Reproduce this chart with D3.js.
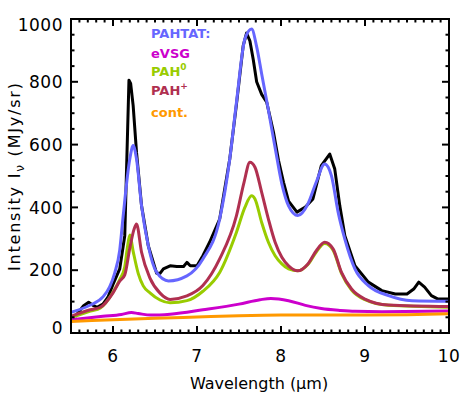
<!DOCTYPE html>
<html><head><meta charset="utf-8">
<script src="https://cdn.jsdelivr.net/npm/d3@7/dist/d3.min.js"></script>
<style>body{margin:0;background:#fff}svg{display:block}text{font-family:"DejaVu Sans",sans-serif}</style>
</head><body>
<script>
// ---- data ----
const obsWave = [5.55,5.6,5.65,5.71,5.77,5.81,5.88,5.94,6.0,6.08,6.14,6.19,6.21,6.24,6.28,6.34,6.42,6.52,6.56,6.6,6.68,6.76,6.84,6.88,6.92,7.0,7.07,7.15,7.27,7.39,7.47,7.55,7.59,7.63,7.67,7.71,7.77,7.83,7.91,7.97,8.03,8.09,8.19,8.29,8.38,8.48,8.58,8.64,8.7,8.76,8.88,9.04,9.2,9.36,9.5,9.58,9.64,9.71,9.79,9.87,10];
const obsFlux = [52,70,87,98,87,82,92,114,155,204,310,805,795,724,575,405,278,190,190,204,214,212,212,225,214,214,246,289,363,554,729,915,955,930,870,800,760,735,640,550,480,420,385,401,427,533,570,522,405,310,214,162,135,124,124,140,162,146,119,108,108];

const pahtatWave = [5.5,5.73,5.88,5.96,6.02,6.08,6.12,6.2,6.24,6.28,6.34,6.42,6.52,6.66,6.88,7.07,7.27,7.39,7.47,7.57,7.65,7.71,7.77,7.85,7.93,8.01,8.09,8.2,8.32,8.42,8.52,8.6,8.68,8.76,8.88,9.04,9.28,9.56,10];
const pahtatFlux = [66,89,115,147,191,264,370,554,597,554,405,278,193,166,182,236,363,554,735,936,968,912,825,710,590,475,405,374,411,481,538,501,385,299,204,151,119,103,101];

const evsgWave = [5.5,5.88,6.1,6.22,6.3,6.45,6.68,7.07,7.5,7.75,7.88,8.09,8.29,8.48,8.7,8.88,9.2,10];
const evsgFlux = [42,53,59,65,62,57,60,74,92,106,110,103,88,78,72,69,68,70];

const pah0Wave = [5.5,5.73,5.85,6.0,6.08,6.14,6.17,6.2,6.24,6.3,6.36,6.44,6.56,6.68,6.88,7.07,7.27,7.47,7.57,7.65,7.69,7.77,7.85,7.93,8.01,8.09,8.2,8.32,8.42,8.52,8.62,8.72,8.84,9.0,9.28,10];
const pah0Flux = [49,70,80,130,170,211,270,312,260,190,150,128,105,96,103,133,193,321,400,437,427,352,289,246,220,204,198,218,258,285,264,190,137,106,88,82];

const pahpWave = [5.5,5.73,5.85,6.0,6.08,6.14,6.2,6.25,6.28,6.34,6.44,6.56,6.68,6.88,7.07,7.27,7.47,7.56,7.63,7.69,7.77,7.85,7.93,8.01,8.09,8.2,8.32,8.42,8.52,8.62,8.72,8.84,9.0,9.28,10];
const pahpFlux = [53,74,82,128,165,185,270,330,347,257,175,127,107,118,151,236,374,480,544,528,448,363,289,241,214,198,220,262,289,268,193,140,108,89,84];

const contWave = [5.5,6.0,6.5,7.0,7.5,8.0,8.5,9.0,9.5,10];
const contFlux = [37,42,47,51,55,57,57,57,58,61];

const xTicks = [6,7,8,9,10];
const yTicks = [0,200,400,600,800,1000];
const legendLabels = ["PAHTAT:","eVSG","PAH","PAH","cont."];
const legendSups = ["","","0","+",""];

// ---- layout ----
const W = 472, H = 393;
const L = 71, R = 449, T = 19, B = 333;
const colors = {obs:"#000000", pahtat:"#6666ff", evsg:"#cc00cc", pah0:"#99cc00", pahp:"#b03050", cont:"#ff9900"};

const svg = d3.select("body").append("svg").attr("width", W).attr("height", H);
const x = d3.scaleLinear().domain([5.5,10]).range([L,R]);
const y = d3.scaleLinear().domain([0,1000]).range([B,T]);

svg.append("clipPath").attr("id","clip").append("rect")
  .attr("x",L).attr("y",T).attr("width",R-L).attr("height",B-T);

const g = svg.append("g").attr("clip-path","url(#clip)");
function pts(w,f){return w.map((d,i)=>[d,f[i]]);}
const smooth = d3.line().x(d=>x(d[0])).y(d=>y(d[1])).curve(d3.curveMonotoneX);
const lin = d3.line().x(d=>x(d[0])).y(d=>y(d[1]));

const series = [
  {w:obsWave,f:obsFlux,c:colors.obs,gen:lin},
  {w:pahtatWave,f:pahtatFlux,c:colors.pahtat,gen:smooth},
  {w:pah0Wave,f:pah0Flux,c:colors.pah0,gen:smooth},
  {w:pahpWave,f:pahpFlux,c:colors.pahp,gen:smooth},
  {w:evsgWave,f:evsgFlux,c:colors.evsg,gen:smooth},
  {w:contWave,f:contFlux,c:colors.cont,gen:smooth}
];
series.forEach(s=>{
  g.append("path").attr("d", s.gen(pts(s.w,s.f)))
    .attr("fill","none").attr("stroke",s.c).attr("stroke-width",3)
    .attr("stroke-linejoin","round");
});

// ---- axes (IDL-style box with inward ticks on all sides) ----
const axG = svg.append("g").attr("fill","none").attr("stroke","#000").attr("stroke-width",2);
const xMinor = d3.range(55,101).map(d=>d/10);
const yMinor = d3.range(0,1001,50);
xMinor.forEach(v=>{
  const major = Math.abs(v-Math.round(v))<1e-6;
  const len = major?7:3.5;
  const px = x(v);
  axG.append("line").attr("x1",px).attr("x2",px).attr("y1",B).attr("y2",B-len);
  axG.append("line").attr("x1",px).attr("x2",px).attr("y1",T).attr("y2",T+len);
});
yMinor.forEach(v=>{
  const major = v%200===0;
  const len = major?7:3.5;
  const py = y(v);
  axG.append("line").attr("x1",L).attr("x2",L+len).attr("y1",py).attr("y2",py);
  axG.append("line").attr("x1",R).attr("x2",R-len).attr("y1",py).attr("y2",py);
});
axG.append("rect").attr("x",L).attr("y",T).attr("width",R-L).attr("height",B-T);

// tick labels
svg.selectAll(".xt").data(xTicks).enter().append("text")
  .attr("x",d=>x(d)).attr("y",362).attr("text-anchor","middle")
  .attr("font-size",17).attr("letter-spacing",0.5).text(d=>d);
svg.selectAll(".yt").data(yTicks).enter().append("text")
  .attr("x",63).attr("y",d=>y(d)+ (d===0?-5:(d===1000?6:0)))
  .attr("dy","0.36em").attr("text-anchor","end")
  .attr("font-size",17).attr("letter-spacing",0.5).text(d=>d);

// axis titles
svg.append("text").attr("x",(180+338)/2).attr("y",389).attr("text-anchor","middle")
  .attr("font-size",16).text("Wavelength (\u03BCm)");
const yl = svg.append("text").attr("transform","translate(20,177) rotate(-90)")
  .attr("text-anchor","middle").attr("font-size",16);
yl.append("tspan").text("Intensity I");
yl.append("tspan").attr("font-size",12).attr("dy",4).text("\u03BD");
yl.append("tspan").attr("dy",-4).text(" (MJy/sr)");
yl.attr("textLength",188).attr("lengthAdjust","spacing");

// legend
const legColors = [colors.pahtat,colors.evsg,colors.pah0,colors.pahp,colors.cont];
const legY = [38,58,76,95,117];
legendLabels.forEach((t,i)=>{
  const tx = svg.append("text").attr("x",151).attr("y",legY[i])
    .attr("font-size",13).attr("font-weight","bold").attr("fill",legColors[i]).text(t);
  if(legendSups[i]) tx.append("tspan").attr("dy",-6).attr("font-size",9).text(legendSups[i]);
});
</script>
</body></html>
